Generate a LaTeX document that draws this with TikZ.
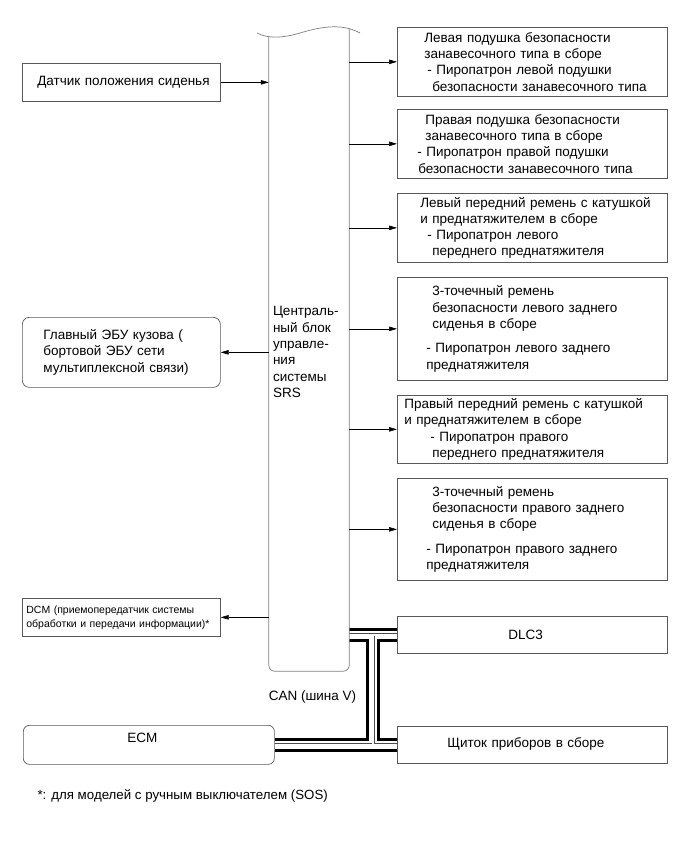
\documentclass[tikz,border=0pt]{standalone}
\usepackage{fontspec}
\setmainfont{Liberation Sans}
\usetikzlibrary{arrows.meta,calc,backgrounds}

\begin{document}
\begin{tikzpicture}[x=1pt, y=-1pt, every node/.style={font=\fontsize{13.5pt}{16.3pt}\selectfont}, box/.style={draw=black!65, line width=0.7pt, anchor=north west, inner sep=0pt, align=left}, unit/.style={box, text width=270pt, minimum height=69pt}, side/.style={box, text width=198pt, minimum height=38pt}, ecu/.style={side, rounded corners=7pt, minimum height=70pt}, frame/.style={draw=black!50, line width=0.7pt}, arr/.style={-{Triangle[length=8pt,width=4.5pt]}, line width=0.6pt}]
\useasboundingbox (0,0) rectangle (690,853);
% left column
\node[side] (sensor) at (22,63) {\hspace*{15pt}Датчик положения сиденья};
\node[ecu] (body) at (22,317) {\hspace*{21pt}Главный ЭБУ кузова (\\\hspace*{21pt}бортовой ЭБУ сети\\\hspace*{21pt}мультиплексной связи)};
\node[side, font=\fontsize{10.5pt}{14pt}\selectfont] (dcm) at (22,598) {\hspace*{4pt}DCM (приемопередатчик системы\\\hspace*{4pt}обработки и передачи информации)*};
\node[side, text width=251pt, rounded corners=6pt, minimum height=39pt, text depth=14pt] (ecm) at (23,725) {\hspace*{104pt}ECM};
% SRS unit
\node[text width=72pt, inner xsep=4pt, inner ysep=0pt, minimum height=638pt, align=left] (srs) at (309,352) {Централь-\\ный блок\\управле-\\ния\\системы\\SRS};
\draw[frame, rounded corners=6pt] ([yshift=-3.6pt]srs.north west) -- (srs.south west) -- (srs.south east) -- ([yshift=4.4pt]srs.north east);
\draw[frame] (257,33) .. controls (268,39) and (283,38) .. (300,33) .. controls (317,28) and (340,22) .. (360,33);
% right column
\node[unit] (lcurt) at (397,27) {\hspace*{27pt}Левая подушка безопасности\\\hspace*{27pt}занавесочного типа в сборе\\\hspace*{30pt}- Пиропатрон левой подушки\\\hspace*{35pt}безопасности занавесочного типа};
\node[unit] (rcurt) at (397,109) {\hspace*{28pt}Правая подушка безопасности\\\hspace*{28pt}занавесочного типа в сборе\\\hspace*{20pt}- Пиропатрон правой подушки\\\hspace*{21pt}безопасности занавесочного типа};
\node[unit] (lfront) at (397,193) {\hspace*{23pt}Левый передний ремень с катушкой\\\hspace*{23pt}и преднатяжителем в сборе\\\hspace*{30pt}- Пиропатрон левого\\\hspace*{35pt}переднего преднатяжителя};
\node[unit, minimum height=103pt] (lrear) at (397,277) {\hspace*{35pt}3-точечный ремень\\\hspace*{35pt}безопасности левого заднего\\\hspace*{35pt}сиденья в сборе\\[8pt]\hspace*{29pt}- Пиропатрон левого заднего\\\hspace*{29pt}преднатяжителя};
\node[unit, minimum height=68pt] (rfront) at (397,395) {\hspace*{7pt}Правый передний ремень с катушкой\\\hspace*{7pt}и преднатяжителем в сборе\\\hspace*{33pt}- Пиропатрон правого\\\hspace*{35pt}переднего преднатяжителя};
\node[unit, minimum height=102pt] (rrear) at (397,478) {\hspace*{35pt}3-точечный ремень\\\hspace*{35pt}безопасности правого заднего\\\hspace*{35pt}сиденья в сборе\\[8pt]\hspace*{29pt}- Пиропатрон правого заднего\\\hspace*{29pt}преднатяжителя};
\node[unit, minimum height=37pt] (dlc) at (397,616) {\hspace*{111pt}DLC3};
\node[unit, minimum height=37pt, text depth=5pt] (meter) at (397,726) {\hspace*{50pt}Щиток приборов в сборе};
\node (can) at (312.5,697) {CAN (шина V)};
\node[anchor=west, font=\fontsize{13.3pt}{16pt}\selectfont] (note) at (34,796) {*: для моделей с ручным выключателем (SOS)};
% signal lines
\draw[arr] (sensor.east) -- (sensor.east -| srs.west);
\draw[arr] (srs.west |- body.east) -- (body.east);
\draw[arr] (srs.west |- dcm.east) -- (dcm.east);
\foreach \n in {lcurt,rcurt,lfront,lrear,rfront,rrear}
  \draw[arr] (srs.east |- \n.west) -- (\n.west);
% CAN bus
\coordinate (tee) at ($(srs.east |- dlc.west)!0.5!(dlc.west)$);
\begin{scope}[on background layer]
\foreach \w/\c in {13.3pt/black, 8.7pt/white, 3.2pt/black!70, 2pt/white}
  \draw[line width=\w, draw=\c] (srs.east |- dlc.west) -- (dlc.west) (tee) -- (tee |- meter.west) (ecm.east) -- (meter.west);
\end{scope}
\end{tikzpicture}
\end{document}
